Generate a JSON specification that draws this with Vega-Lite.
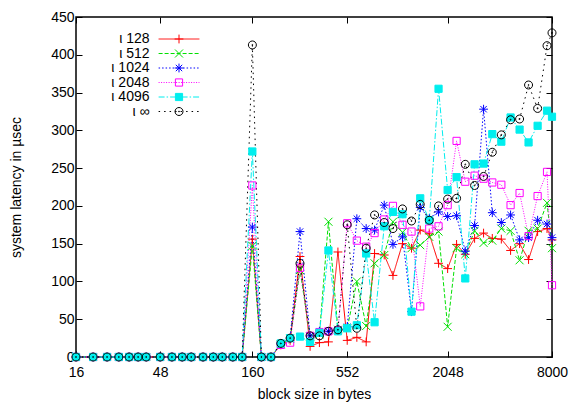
{
"$schema":"https://vega.github.io/schema/vega-lite/v6.json",
"width":476,"height":340,
"autosize":{"type":"none"},
"padding":{"left":76,"top":17,"right":17,"bottom":45},
"background":"white",
"config":{
"font":"Liberation Sans",
"view":{"stroke":"black","strokeWidth":1.5},
"axis":{"labelFontSize":14,"titleFontSize":14,"titleFontWeight":"normal","labelColor":"black","titleColor":"black","tickColor":"black","domain":false,"grid":false,"tickSize":-6,"labelPadding":8,"tickWidth":1,"labelFlush":false,"labelOverlap":false}
},
"datasets":{"d":[
{"s":"ι 128","x":16,"y":0},{"s":"ι 128","x":20,"y":0},{"s":"ι 128","x":24,"y":0},{"s":"ι 128","x":28,"y":0},{"s":"ι 128","x":32,"y":0},{"s":"ι 128","x":36,"y":0},{"s":"ι 128","x":40,"y":0},{"s":"ι 128","x":48,"y":0},{"s":"ι 128","x":56,"y":0},{"s":"ι 128","x":64,"y":0},{"s":"ι 128","x":72,"y":0},{"s":"ι 128","x":84,"y":0},{"s":"ι 128","x":96,"y":0},{"s":"ι 128","x":108,"y":0},{"s":"ι 128","x":124,"y":0},{"s":"ι 128","x":140,"y":0},{"s":"ι 128","x":160,"y":156},{"s":"ι 128","x":180,"y":0},{"s":"ι 128","x":204,"y":0},{"s":"ι 128","x":232,"y":16},{"s":"ι 128","x":262,"y":22},{"s":"ι 128","x":298,"y":133},{"s":"ι 128","x":340,"y":14},{"s":"ι 128","x":384,"y":19},{"s":"ι 128","x":432,"y":20},{"s":"ι 128","x":489,"y":139},{"s":"ι 128","x":552,"y":22},{"s":"ι 128","x":626,"y":26},{"s":"ι 128","x":707,"y":20},{"s":"ι 128","x":789,"y":137},{"s":"ι 128","x":895,"y":135},{"s":"ι 128","x":1003,"y":108},{"s":"ι 128","x":1136,"y":150},{"s":"ι 128","x":1278,"y":144},{"s":"ι 128","x":1432,"y":168},{"s":"ι 128","x":1611,"y":163},{"s":"ι 128","x":1819,"y":124},{"s":"ι 128","x":2048,"y":117},{"s":"ι 128","x":2302,"y":149},{"s":"ι 128","x":2578,"y":136},{"s":"ι 128","x":2912,"y":157},{"s":"ι 128","x":3274,"y":164},{"s":"ι 128","x":3669,"y":157},{"s":"ι 128","x":4128,"y":156},{"s":"ι 128","x":4659,"y":141},{"s":"ι 128","x":5240,"y":150},{"s":"ι 128","x":5891,"y":129},{"s":"ι 128","x":6630,"y":166},{"s":"ι 128","x":7497,"y":170},{"s":"ι 128","x":8000,"y":155},
{"s":"ι 512","x":16,"y":0},{"s":"ι 512","x":20,"y":0},{"s":"ι 512","x":24,"y":0},{"s":"ι 512","x":28,"y":0},{"s":"ι 512","x":32,"y":0},{"s":"ι 512","x":36,"y":0},{"s":"ι 512","x":40,"y":0},{"s":"ι 512","x":48,"y":0},{"s":"ι 512","x":56,"y":0},{"s":"ι 512","x":64,"y":0},{"s":"ι 512","x":72,"y":0},{"s":"ι 512","x":84,"y":0},{"s":"ι 512","x":96,"y":0},{"s":"ι 512","x":108,"y":0},{"s":"ι 512","x":124,"y":0},{"s":"ι 512","x":140,"y":0},{"s":"ι 512","x":160,"y":147},{"s":"ι 512","x":180,"y":0},{"s":"ι 512","x":204,"y":0},{"s":"ι 512","x":232,"y":17},{"s":"ι 512","x":262,"y":24},{"s":"ι 512","x":298,"y":115},{"s":"ι 512","x":340,"y":27},{"s":"ι 512","x":384,"y":30},{"s":"ι 512","x":432,"y":179},{"s":"ι 512","x":489,"y":36},{"s":"ι 512","x":552,"y":38},{"s":"ι 512","x":626,"y":100},{"s":"ι 512","x":707,"y":41},{"s":"ι 512","x":789,"y":124},{"s":"ι 512","x":895,"y":135},{"s":"ι 512","x":1003,"y":179},{"s":"ι 512","x":1136,"y":165},{"s":"ι 512","x":1278,"y":144},{"s":"ι 512","x":1432,"y":148},{"s":"ι 512","x":1611,"y":159},{"s":"ι 512","x":1819,"y":166},{"s":"ι 512","x":2048,"y":40},{"s":"ι 512","x":2302,"y":144},{"s":"ι 512","x":2578,"y":136},{"s":"ι 512","x":2912,"y":167},{"s":"ι 512","x":3274,"y":151},{"s":"ι 512","x":3669,"y":154},{"s":"ι 512","x":4128,"y":170},{"s":"ι 512","x":4659,"y":167},{"s":"ι 512","x":5240,"y":128},{"s":"ι 512","x":5891,"y":167},{"s":"ι 512","x":6630,"y":170},{"s":"ι 512","x":7497,"y":204},{"s":"ι 512","x":8000,"y":144},
{"s":"ι 1024","x":16,"y":0},{"s":"ι 1024","x":20,"y":0},{"s":"ι 1024","x":24,"y":0},{"s":"ι 1024","x":28,"y":0},{"s":"ι 1024","x":32,"y":0},{"s":"ι 1024","x":36,"y":0},{"s":"ι 1024","x":40,"y":0},{"s":"ι 1024","x":48,"y":0},{"s":"ι 1024","x":56,"y":0},{"s":"ι 1024","x":64,"y":0},{"s":"ι 1024","x":72,"y":0},{"s":"ι 1024","x":84,"y":0},{"s":"ι 1024","x":96,"y":0},{"s":"ι 1024","x":108,"y":0},{"s":"ι 1024","x":124,"y":0},{"s":"ι 1024","x":140,"y":0},{"s":"ι 1024","x":160,"y":172},{"s":"ι 1024","x":180,"y":0},{"s":"ι 1024","x":204,"y":0},{"s":"ι 1024","x":232,"y":18},{"s":"ι 1024","x":262,"y":25},{"s":"ι 1024","x":298,"y":166},{"s":"ι 1024","x":340,"y":28},{"s":"ι 1024","x":384,"y":34},{"s":"ι 1024","x":432,"y":34},{"s":"ι 1024","x":489,"y":36},{"s":"ι 1024","x":552,"y":40},{"s":"ι 1024","x":626,"y":183},{"s":"ι 1024","x":707,"y":170},{"s":"ι 1024","x":789,"y":168},{"s":"ι 1024","x":895,"y":201},{"s":"ι 1024","x":1003,"y":149},{"s":"ι 1024","x":1136,"y":159},{"s":"ι 1024","x":1278,"y":60},{"s":"ι 1024","x":1432,"y":198},{"s":"ι 1024","x":1611,"y":183},{"s":"ι 1024","x":1819,"y":192},{"s":"ι 1024","x":2048,"y":186},{"s":"ι 1024","x":2302,"y":187},{"s":"ι 1024","x":2578,"y":140},{"s":"ι 1024","x":2912,"y":174},{"s":"ι 1024","x":3274,"y":328},{"s":"ι 1024","x":3669,"y":191},{"s":"ι 1024","x":4128,"y":178},{"s":"ι 1024","x":4659,"y":188},{"s":"ι 1024","x":5240,"y":155},{"s":"ι 1024","x":5891,"y":158},{"s":"ι 1024","x":6630,"y":181},{"s":"ι 1024","x":7497,"y":176},{"s":"ι 1024","x":8000,"y":158},
{"s":"ι 2048","x":16,"y":0},{"s":"ι 2048","x":20,"y":0},{"s":"ι 2048","x":24,"y":0},{"s":"ι 2048","x":28,"y":0},{"s":"ι 2048","x":32,"y":0},{"s":"ι 2048","x":36,"y":0},{"s":"ι 2048","x":40,"y":0},{"s":"ι 2048","x":48,"y":0},{"s":"ι 2048","x":56,"y":0},{"s":"ι 2048","x":64,"y":0},{"s":"ι 2048","x":72,"y":0},{"s":"ι 2048","x":84,"y":0},{"s":"ι 2048","x":96,"y":0},{"s":"ι 2048","x":108,"y":0},{"s":"ι 2048","x":124,"y":0},{"s":"ι 2048","x":140,"y":0},{"s":"ι 2048","x":160,"y":227},{"s":"ι 2048","x":180,"y":0},{"s":"ι 2048","x":204,"y":0},{"s":"ι 2048","x":232,"y":16},{"s":"ι 2048","x":262,"y":19},{"s":"ι 2048","x":298,"y":118},{"s":"ι 2048","x":340,"y":28},{"s":"ι 2048","x":384,"y":33},{"s":"ι 2048","x":432,"y":34},{"s":"ι 2048","x":489,"y":35},{"s":"ι 2048","x":552,"y":177},{"s":"ι 2048","x":626,"y":154},{"s":"ι 2048","x":707,"y":146},{"s":"ι 2048","x":789,"y":164},{"s":"ι 2048","x":895,"y":182},{"s":"ι 2048","x":1003,"y":200},{"s":"ι 2048","x":1136,"y":175},{"s":"ι 2048","x":1278,"y":166},{"s":"ι 2048","x":1432,"y":67},{"s":"ι 2048","x":1611,"y":170},{"s":"ι 2048","x":1819,"y":173},{"s":"ι 2048","x":2048,"y":201},{"s":"ι 2048","x":2302,"y":286},{"s":"ι 2048","x":2578,"y":232},{"s":"ι 2048","x":2912,"y":240},{"s":"ι 2048","x":3274,"y":236},{"s":"ι 2048","x":3669,"y":231},{"s":"ι 2048","x":4128,"y":228},{"s":"ι 2048","x":4659,"y":201},{"s":"ι 2048","x":5240,"y":217},{"s":"ι 2048","x":5891,"y":160},{"s":"ι 2048","x":6630,"y":213},{"s":"ι 2048","x":7497,"y":245},{"s":"ι 2048","x":8000,"y":95},
{"s":"ι 4096","x":16,"y":0},{"s":"ι 4096","x":20,"y":0},{"s":"ι 4096","x":24,"y":0},{"s":"ι 4096","x":28,"y":0},{"s":"ι 4096","x":32,"y":0},{"s":"ι 4096","x":36,"y":0},{"s":"ι 4096","x":40,"y":0},{"s":"ι 4096","x":48,"y":0},{"s":"ι 4096","x":56,"y":0},{"s":"ι 4096","x":64,"y":0},{"s":"ι 4096","x":72,"y":0},{"s":"ι 4096","x":84,"y":0},{"s":"ι 4096","x":96,"y":0},{"s":"ι 4096","x":108,"y":0},{"s":"ι 4096","x":124,"y":0},{"s":"ι 4096","x":140,"y":0},{"s":"ι 4096","x":160,"y":272},{"s":"ι 4096","x":180,"y":0},{"s":"ι 4096","x":204,"y":0},{"s":"ι 4096","x":232,"y":18},{"s":"ι 4096","x":262,"y":25},{"s":"ι 4096","x":298,"y":27},{"s":"ι 4096","x":340,"y":20},{"s":"ι 4096","x":384,"y":32},{"s":"ι 4096","x":432,"y":141},{"s":"ι 4096","x":489,"y":34},{"s":"ι 4096","x":552,"y":38},{"s":"ι 4096","x":626,"y":42},{"s":"ι 4096","x":707,"y":137},{"s":"ι 4096","x":789,"y":46},{"s":"ι 4096","x":895,"y":173},{"s":"ι 4096","x":1003,"y":192},{"s":"ι 4096","x":1136,"y":189},{"s":"ι 4096","x":1278,"y":60},{"s":"ι 4096","x":1432,"y":210},{"s":"ι 4096","x":1611,"y":181},{"s":"ι 4096","x":1819,"y":355},{"s":"ι 4096","x":2048,"y":221},{"s":"ι 4096","x":2302,"y":238},{"s":"ι 4096","x":2578,"y":104},{"s":"ι 4096","x":2912,"y":255},{"s":"ι 4096","x":3274,"y":256},{"s":"ι 4096","x":3669,"y":295},{"s":"ι 4096","x":4128,"y":285},{"s":"ι 4096","x":4659,"y":317},{"s":"ι 4096","x":5240,"y":301},{"s":"ι 4096","x":5891,"y":284},{"s":"ι 4096","x":6630,"y":306},{"s":"ι 4096","x":7497,"y":326},{"s":"ι 4096","x":8000,"y":318},
{"s":"ι ∞","x":16,"y":0},{"s":"ι ∞","x":20,"y":0},{"s":"ι ∞","x":24,"y":0},{"s":"ι ∞","x":28,"y":0},{"s":"ι ∞","x":32,"y":0},{"s":"ι ∞","x":36,"y":0},{"s":"ι ∞","x":40,"y":0},{"s":"ι ∞","x":48,"y":0},{"s":"ι ∞","x":56,"y":0},{"s":"ι ∞","x":64,"y":0},{"s":"ι ∞","x":72,"y":0},{"s":"ι ∞","x":84,"y":0},{"s":"ι ∞","x":96,"y":0},{"s":"ι ∞","x":108,"y":0},{"s":"ι ∞","x":124,"y":0},{"s":"ι ∞","x":140,"y":0},{"s":"ι ∞","x":160,"y":413},{"s":"ι ∞","x":180,"y":0},{"s":"ι ∞","x":204,"y":0},{"s":"ι ∞","x":232,"y":18},{"s":"ι ∞","x":262,"y":25},{"s":"ι ∞","x":298,"y":124},{"s":"ι ∞","x":340,"y":28},{"s":"ι ∞","x":384,"y":28},{"s":"ι ∞","x":432,"y":34},{"s":"ι ∞","x":489,"y":36},{"s":"ι ∞","x":552,"y":175},{"s":"ι ∞","x":626,"y":38},{"s":"ι ∞","x":707,"y":144},{"s":"ι ∞","x":789,"y":188},{"s":"ι ∞","x":895,"y":178},{"s":"ι ∞","x":1003,"y":170},{"s":"ι ∞","x":1136,"y":196},{"s":"ι ∞","x":1278,"y":180},{"s":"ι ∞","x":1432,"y":202},{"s":"ι ∞","x":1611,"y":181},{"s":"ι ∞","x":1819,"y":200},{"s":"ι ∞","x":2048,"y":209},{"s":"ι ∞","x":2302,"y":210},{"s":"ι ∞","x":2578,"y":255},{"s":"ι ∞","x":2912,"y":227},{"s":"ι ∞","x":3274,"y":239},{"s":"ι ∞","x":3669,"y":271},{"s":"ι ∞","x":4128,"y":294},{"s":"ι ∞","x":4659,"y":314},{"s":"ι ∞","x":5240,"y":315},{"s":"ι ∞","x":5891,"y":360},{"s":"ι ∞","x":6630,"y":329},{"s":"ι ∞","x":7497,"y":412},{"s":"ι ∞","x":8000,"y":429}
]},
"data":{"name":"d"},
"layer":[
{"mark":{"type":"line","strokeWidth":1},
"encoding":{
"x":{"field":"x","type":"quantitative","scale":{"type":"log","domain":[16,8000],"nice":false},"axis":{"values":[16,48,160,552,2048,8000],"format":"d","title":"block size in bytes","labelPadding":14,"titlePadding":8}},
"y":{"field":"y","type":"quantitative","scale":{"domain":[0,450],"nice":false},"axis":{"values":[0,50,100,150,200,250,300,350,400,450],"title":"system latency in µsec","titlePadding":27}},
"stroke":{"field":"s","type":"nominal","scale":{"domain":["ι ∞","ι 4096","ι 2048","ι 1024","ι 512","ι 128"],"range":["#000000","#00eeee","#ff00ff","#0000ff","#00e000","#ff0000"]},"legend":{"title":null,"values":["ι 128","ι 512","ι 1024","ι 2048","ι 4096","ι ∞"],"orient":"none","legendX":96,"legendY":15,"labelAlign":"right","labelOffset":-36.5,"labelFontSize":14,"labelColor":"black","rowPadding":0.5,"symbolType":"M-5.1,0H5.1","symbolSize":64,"symbolStrokeWidth":1}},
"strokeDash":{"field":"s","type":"nominal","scale":{"domain":["ι ∞","ι 4096","ι 2048","ι 1024","ι 512","ι 128"],"range":[[1.5,4],[6,2,1.5,2],[1,1.5],[1.5,2],[4,2],[1,0]]},"legend":{"title":null,"values":["ι 128","ι 512","ι 1024","ι 2048","ι 4096","ι ∞"]}}
}},
{"mark":{"type":"point","filled":false,"strokeWidth":1,"size":64,"opacity":1},
"encoding":{
"x":{"field":"x","type":"quantitative","scale":{"type":"log","domain":[16,8000],"nice":false},"axis":{"orient":"top","values":[16,48,160,552,2048,8000],"labels":false,"title":null}},
"y":{"field":"y","type":"quantitative","scale":{"domain":[0,450],"nice":false},"axis":{"orient":"right","values":[0,50,100,150,200,250,300,350,400,450],"labels":false,"title":null}},
"color":{"field":"s","type":"nominal","scale":{"domain":["ι 128","ι 512","ι 1024","ι 2048","ι 4096","ι ∞"],"range":["#ff0000","#00e000","#0000ff","#ff00ff","#00eeee","#000000"]},"legend":{"title":null,"orient":"none","legendX":96,"legendY":15,"labelOpacity":0,"labelFontSize":14,"rowPadding":0.5,"symbolSize":64,"symbolStrokeWidth":1}},
"shape":{"field":"s","type":"nominal","scale":{"domain":["ι 128","ι 512","ι 1024","ι 2048","ι 4096","ι ∞"],"range":["M-1.1,0H1.1M0,-1.1V1.1","M-1,-1L1,1M-1,1L1,-1","M-1.1,0H1.1M0,-1.1V1.1M-0.8,-0.8L0.8,0.8M-0.8,0.8L0.8,-0.8","M-0.9,-0.9H0.9V0.9H-0.9Z","M-0.9,-0.9H0.9V0.9H-0.9Z","M-1,0A1,1,0,1,0,1,0A1,1,0,1,0,-1,0ZM-0.12,0A0.12,0.12,0,1,0,0.12,0A0.12,0.12,0,1,0,-0.12,0Z"]},"legend":{"title":null}},
"fill":{"field":"s","type":"nominal","scale":{"domain":["ι 128","ι 512","ι 1024","ι 2048","ι 4096","ι ∞"],"range":["transparent","transparent","transparent","transparent","#00eeee","transparent"]},"legend":{"title":null}}
}}
],
"resolve":{"axis":{"x":"independent","y":"independent"}}
}
